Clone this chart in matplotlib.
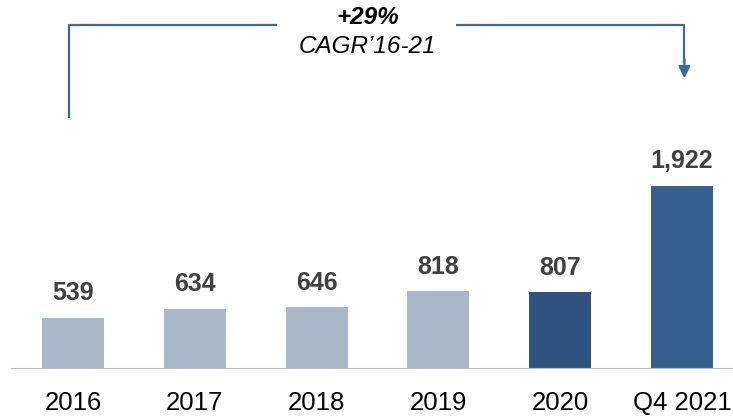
import matplotlib

matplotlib.use("Agg")
import matplotlib.pyplot as plt
import matplotlib.transforms as mtransforms

categories = ["2016", "2017", "2018", "2019", "2020", "Q4 2021"]
values = [539, 634, 646, 818, 807, 1922]
value_labels = ["539", "634", "646", "818", "807", "1,922"]
cagr_value = "+29%"
cagr_label = "CAGR\u201916-21"

bar_colors = ["#AAB7C6"] * 4 + ["#2F537F", "#36608F"]
line_color = "#41679A"

plt.rcParams["font.family"] = ["Liberation Sans", "DejaVu Sans"]

fig = plt.figure(figsize=(7.33, 4.18), dpi=100)
ax = fig.add_axes([0, 49 / 418, 1, 369 / 418])

x = list(range(len(categories)))
ax.bar(x, values, width=0.51, color=bar_colors, zorder=2)
for xi, v, lab in zip(x, values, value_labels):
    ax.annotate(lab, (xi, v), xytext=(0, 9), textcoords="offset points",
                ha="center", va="bottom", fontsize=18, fontweight="bold",
                color="#404040")

ax.set_xlim(-0.599, 5.419)
ax.set_ylim(0, 3875)
ax.axhline(0, xmin=12 / 733, xmax=1, color="#C0C0C0", lw=1.5, zorder=3)

ax.set_xticks(x)
ax.set_xticklabels(categories, fontsize=18.5, color="black")
ax.tick_params(axis="x", length=0, pad=16)
ax.set_yticks([])
for s in ax.spines.values():
    s.set_visible(False)

# CAGR bracket (x in data, y in axes fraction)
trans = mtransforms.blended_transform_factory(ax.transData, ax.transAxes)
xl, xr = -0.033, 5.02
ytop, ybot = 0.932, 0.679
ax.plot([xl, xl, 1.675], [ybot, ytop, ytop], color=line_color, lw=1.6,
        transform=trans, clip_on=False, solid_capstyle="butt")
ax.plot([3.145, xr, xr], [ytop, ytop, 0.83], color=line_color, lw=1.6,
        transform=trans, clip_on=False, solid_capstyle="butt")
ax.annotate("", xy=(xr, 0.788), xytext=(xr, 0.84), xycoords=trans,
            textcoords=trans,
            arrowprops=dict(arrowstyle="-|>,head_length=0.7,head_width=0.35",
                            color=line_color, lw=1.6, shrinkA=0, shrinkB=0))
ax.text(2.42, 0.953, cagr_value, transform=trans, ha="center", va="center",
        fontsize=17.5, fontweight="bold", fontstyle="italic", color="black")
ax.text(2.42, 0.874, cagr_label, transform=trans, ha="center", va="center",
        fontsize=17.5, fontstyle="italic", color="black")

fig.savefig("out.png", dpi=100)
